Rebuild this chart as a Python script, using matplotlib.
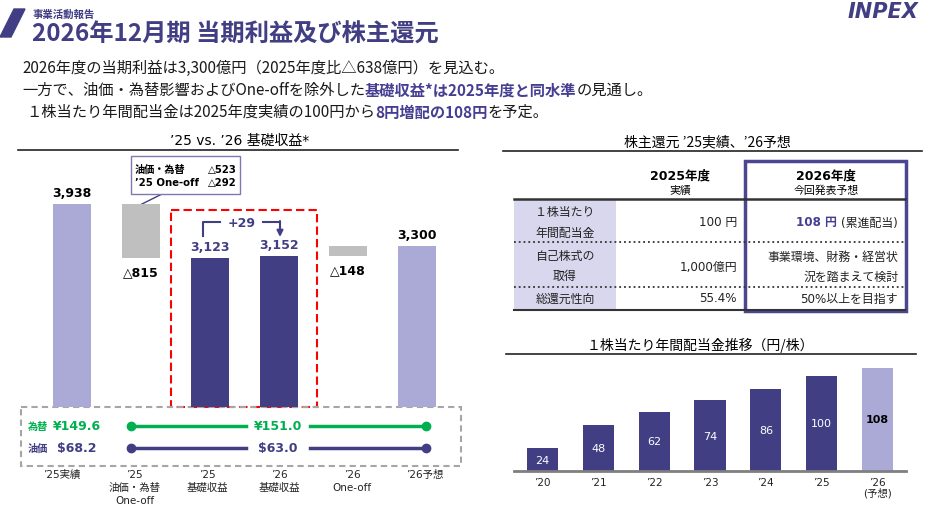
import matplotlib
matplotlib.use("Agg")
import matplotlib.pyplot as plt
from matplotlib.patches import Rectangle, Polygon

JP = ['Noto Sans CJK JP', 'DejaVu Sans']
LAT = ['DejaVu Sans', 'Noto Sans CJK JP']
plt.rcParams['font.family'] = JP

NAVY = '#413E84'
LIGHT = '#ABAAD6'
GRAY = '#BFBFBF'
GREEN = '#00B050'
HILITE = '#463E92'

# ---- data ----
wf_labels = ["’25実績", "’25\n油価・為替\nOne-off", "’25\n基礎収益",
             "’26\n基礎収益", "’26\nOne-off", "’26予想"]
wf_kind = ['total', 'delta', 'base', 'base', 'delta', 'total']
wf_top = [3938, 3938, 3123, 3152, 3300, 3300]
wf_bottom = [0, 3123, 0, 0, 3152, 0]
wf_text = ["3,938", "△815", "3,123", "3,152", "△148", "3,300"]
oneoff_breakdown = [("油価・為替", "△523"), ("’25 One-off", "△292")]
base_change = "+29"

fx_25, fx_26 = 149.6, 151.0
oil_25, oil_26 = 68.2, 63.0

table_cols = [("2025年度", "実績"), ("2026年度", "今回発表予想")]
table_rows = ["１株当たり\n年間配当金", "自己株式の\n取得", "総還元性向"]
table_2025 = ["100 円", "1,000億円", "55.4%"]
table_2026 = ["(累進配当)", "事業環境、財務・経営状\n況を踏まえて検討", "50%以上を目指す"]
dps_2026 = "108 円"

div_years = ["’20", "’21", "’22", "’23", "’24", "’25", "’26\n(予想)"]
div_values = [24, 48, 62, 74, 86, 100, 108]

W, H = 938, 510
fig = plt.figure(figsize=(W / 100, H / 100), dpi=100)
bg = fig.add_axes([0, 0, 1, 1])
bg.set_xlim(0, W)
bg.set_ylim(H, 0)
bg.axis('off')


def px_axes(x0, y0, x1, y1):
    a = fig.add_axes([x0 / W, 1 - y1 / H, (x1 - x0) / W, (y1 - y0) / H])
    a.patch.set_alpha(0)
    return a


def rich_line(x, y, parts, size):
    t = None
    for s, bold, col in parts:
        kw = dict(fontsize=size, fontweight='bold' if bold else 'normal',
                  color=col, va='bottom', ha='left')
        if t is None:
            t = bg.text(x, y, s, **kw)
        else:
            t = bg.annotate(s, xy=(1, 0), xycoords=t, **kw)


# ---- header ----
bg.add_patch(Polygon([(14, 10), (25, 10), (11, 38), (0, 38)], color=NAVY))
bg.text(33, 15, "事業活動報告", fontsize=7.5, fontweight='bold', color=NAVY, va='center')
bg.text(32, 35, "2026年12月期 当期利益及び株主還元", fontsize=17.5, fontweight='bold',
        color=NAVY, va='center')
bg.text(883, 12, "INPEX", fontsize=15, fontweight='heavy', style='italic',
        color=NAVY, ha='center', va='center', family=LAT)

K = '#1A1A1A'
BS = 11
rich_line(22, 77, [("2026年度の当期利益は3,300億円（2025年度比△638億円）を見込む。", False, K)], BS)
rich_line(22, 99, [("一方で、油価・為替影響およびOne-offを除外した", False, K),
                   ("基礎収益*は2025年度と同水準", True, HILITE),
                   ("の見通し。", False, K)], BS)
rich_line(26, 121, [("１株当たり年間配当金は2025年度実績の100円から", False, K),
                    ("8円増配の108円", True, HILITE),
                    ("を予定。", False, K)], BS)

# ---- left: waterfall ----
bg.text(240, 141, "’25 vs. ’26 基礎収益*", fontsize=10, ha='center', va='center', family=LAT)
bg.plot([18, 458], [151, 151], color='#222222', lw=1.2)

ax = px_axes(18, 160, 458, 408)
xs = list(range(len(wf_top)))
cmap = {'total': LIGHT, 'delta': GRAY, 'base': NAVY}
ax.bar(xs, [t - b for t, b in zip(wf_top, wf_bottom)], bottom=wf_bottom,
       width=0.56, color=[cmap[k] for k in wf_kind])
ax.set_xlim(-0.783, 5.594)
ax.set_ylim(852, 4622)
ax.axis('off')
for i, (k, s) in enumerate(zip(wf_kind, wf_text)):
    if k == 'delta':
        ax.annotate(s, (i, wf_bottom[i]), xytext=(0, -8), textcoords='offset pixels',
                    ha='center', va='top', fontsize=9, fontweight='bold', family=LAT)
    else:
        ax.annotate(s, (i, wf_top[i]), xytext=(0, 5), textcoords='offset pixels',
                    ha='center', va='bottom', fontsize=9, fontweight='bold', family=LAT,
                    color=NAVY if k == 'base' else 'black')

# callout for '25 one-off
bg.add_patch(Rectangle((131, 157), 109, 38, facecolor='white', edgecolor='#7C78B0', lw=1, zorder=3))
for j, (name, val) in enumerate(oneoff_breakdown):
    yy = 170 + 13 * j
    bg.text(135, yy, name, fontsize=7.3, fontweight='bold', va='center', family=LAT, zorder=4)
    bg.text(237, yy, val, fontsize=7.3, fontweight='bold', va='center', ha='right', family=LAT, zorder=4)
bg.plot([162, 134], [195, 209], color=NAVY, lw=1)
bg.plot([134], [209], 'o', color=NAVY, ms=5)

# red dashed frame + bracket
bg.add_patch(Rectangle((171, 211), 146, 197, fill=False, edgecolor='#FF0000', lw=1.5, ls=(0, (4, 2))))
bg.plot([220, 203, 203], [223, 223, 237], color=NAVY, lw=1.5)
bg.plot([263, 280], [223, 223], color=NAVY, lw=1.5)
bg.annotate('', xy=(280, 238), xytext=(280, 222),
            arrowprops=dict(arrowstyle='-|>', color=NAVY, lw=1.5, mutation_scale=9, shrinkA=0, shrinkB=0))
bg.text(242, 224, base_change, fontsize=9, fontweight='bold', color=NAVY,
        ha='center', va='center', family=LAT)

# price assumption box
bg.add_patch(Rectangle((21, 408), 440, 59, fill=False, edgecolor='#A6A6A6', lw=1.5, ls=(0, (3, 2))))
for yy, name, v25, v26, col in [(427, "為替", f"¥{fx_25:.1f}", f"¥{fx_26:.1f}", GREEN),
                                (449, "油価", f"${oil_25:.1f}", f"${oil_26:.1f}", NAVY)]:
    bg.text(28, yy, name, fontsize=7.3, fontweight='bold', color=col, va='center')
    bg.text(77, yy, v25, fontsize=9, fontweight='bold', color=col, va='center', ha='center', family=LAT)
    bg.plot([131, 246], [yy, yy], color=col, lw=2.5)
    bg.plot([310, 426], [yy, yy], color=col, lw=2.5)
    bg.plot([131, 426], [yy, yy], 'o', color=col, ms=6)
    bg.text(278, yy, v26, fontsize=9, fontweight='bold', color=col, va='center', ha='center', family=LAT)

for i, lab in enumerate(wf_labels):
    cx = 62 + 72.6 * i
    for j, line in enumerate(lab.split("\n")):
        bg.text(cx, 475 + 13 * j, line, fontsize=7.5, ha='center', va='center',
                color='#222222', family=LAT)

# ---- right top: table ----
bg.text(707, 142, "株主還元 ’25実績、’26予想", fontsize=10, ha='center', va='center')
bg.plot([503, 922], [152, 152], color='#222222', lw=1.2)

bg.add_patch(Rectangle((514, 200), 102, 111, color='#D9D7EE', lw=0))
cx_cols = [680, 826]
for cx, (yr, sub) in zip(cx_cols, table_cols):
    bg.text(cx, 176, yr, fontsize=9, fontweight='bold', ha='center', va='center', family=LAT)
    bg.text(cx, 191, sub, fontsize=7.8, ha='center', va='center')
bg.plot([514, 905], [200, 200], color='#333333', lw=1.8)
bg.plot([514, 905], [243, 243], color='#333333', lw=1.3, ls=':')
bg.plot([514, 905], [288, 288], color='#333333', lw=1.3, ls=':')
bg.plot([514, 905], [311, 311], color='#333333', lw=1.5)

row_y = [223, 267, 299]
v26_texts = []
for ry, lab, v25, v26 in zip(row_y, table_rows, table_2025, table_2026):
    lines = lab.split("\n")
    for j, line in enumerate(lines):
        bg.text(565, ry + (j - (len(lines) - 1) / 2) * 20, line, fontsize=8.6,
                ha='center', va='center', color='#222222')
    bg.text(737, ry, v25, fontsize=8.6, ha='right', va='center', family=LAT, color='#222222')
    lines = v26.split("\n")
    for j, line in enumerate(lines):
        t = bg.text(898, ry + (j - (len(lines) - 1) / 2) * 20, line, fontsize=8.6,
                    ha='right', va='center', color='#222222', family=LAT)
        v26_texts.append(t)
bg.annotate(dps_2026 + " ", xy=(0, 0.5), xycoords=v26_texts[0], fontsize=8.6,
            fontweight='bold', color=HILITE, ha='right', va='center', family=LAT)
bg.add_patch(Rectangle((745, 162), 161, 150, fill=False, edgecolor='#4A4690', lw=2.5))

# ---- right bottom: dividend bars ----
bg.text(700, 345, "１株当たり年間配当金推移（円/株）", fontsize=10, ha='center', va='center')
bg.plot([506, 916], [355, 355], color='#222222', lw=1.2)

ax2 = px_axes(514, 355, 906, 472)
dx = list(range(len(div_values)))
bars = ax2.bar(dx, div_values, width=0.56,
               color=[NAVY] * (len(div_values) - 1) + [LIGHT])
ax2.set_xlim(-0.51, 6.51)
ax2.set_ylim(0, 122.6)
for s in ['top', 'left', 'right']:
    ax2.spines[s].set_visible(False)
ax2.spines['bottom'].set_color('#7F7F7F')
ax2.spines['bottom'].set_linewidth(2)
ax2.set_yticks([])
ax2.set_xticks(dx)
ax2.set_xticklabels(div_years, fontsize=7.5, family=LAT, color='#222222', linespacing=1.0)
ax2.tick_params(axis='x', length=0, pad=4)
labels = ax2.bar_label(bars, label_type='center', fontsize=8, color='white', family=LAT)
labels[-1].set_color('black')
labels[-1].set_fontweight('bold')

fig.savefig("out.png", dpi=100)
